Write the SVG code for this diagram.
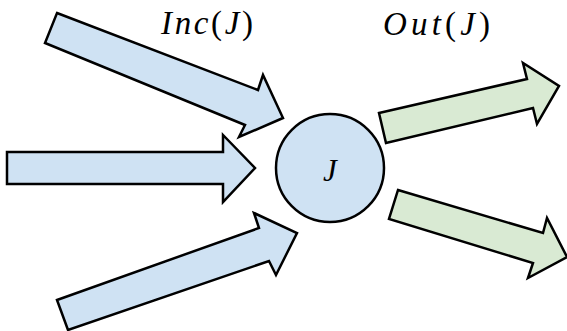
<svg xmlns="http://www.w3.org/2000/svg" width="567" height="331" viewBox="0 0 567 331">
<style>
.in{fill:#cfe2f3;stroke:#000;stroke-width:2.5;stroke-linejoin:miter}
.out{fill:#d9ead3;stroke:#000;stroke-width:2.5;stroke-linejoin:miter}
.lbl{font-family:"Liberation Serif",serif;font-size:33px;fill:#000}
.it{font-style:italic}
</style>
<rect width="567" height="331" fill="#fff"/>
<g id="connectors">
<polygon class="in" points="57,13 258,90 263,75 283,118 239,137 245,125 45,43"/>
<polygon class="in" points="7,152 223,152 223,135 255,168 223,202 223,184 7,184"/>
<polygon class="in" points="57,300 259,228 254,213 297,233 276,275 269,261 68,330"/>
<polygon class="out" points="379,113 527,79 523,63 559,86 537,124 533,108 386,143"/>
<polygon class="out" points="398,190 543,233 547,218 567,257 528,278 533,263 389,219"/>
</g>
<g id="J">
<circle class="in" cx="330" cy="168" r="54"/>
<text class="lbl it" x="330" y="181" text-anchor="middle" style="font-size:31px">J</text>
</g>
<g id="inc-label">
<text class="lbl" x="161" y="34" textLength="92" lengthAdjust="spacing"><tspan class="it">Inc</tspan>(<tspan class="it">J</tspan>)</text>
</g>
<g id="out-label">
<text class="lbl" x="383" y="35" textLength="107" lengthAdjust="spacing"><tspan class="it">Out</tspan>(<tspan class="it">J</tspan>)</text>
</g>
</svg>
